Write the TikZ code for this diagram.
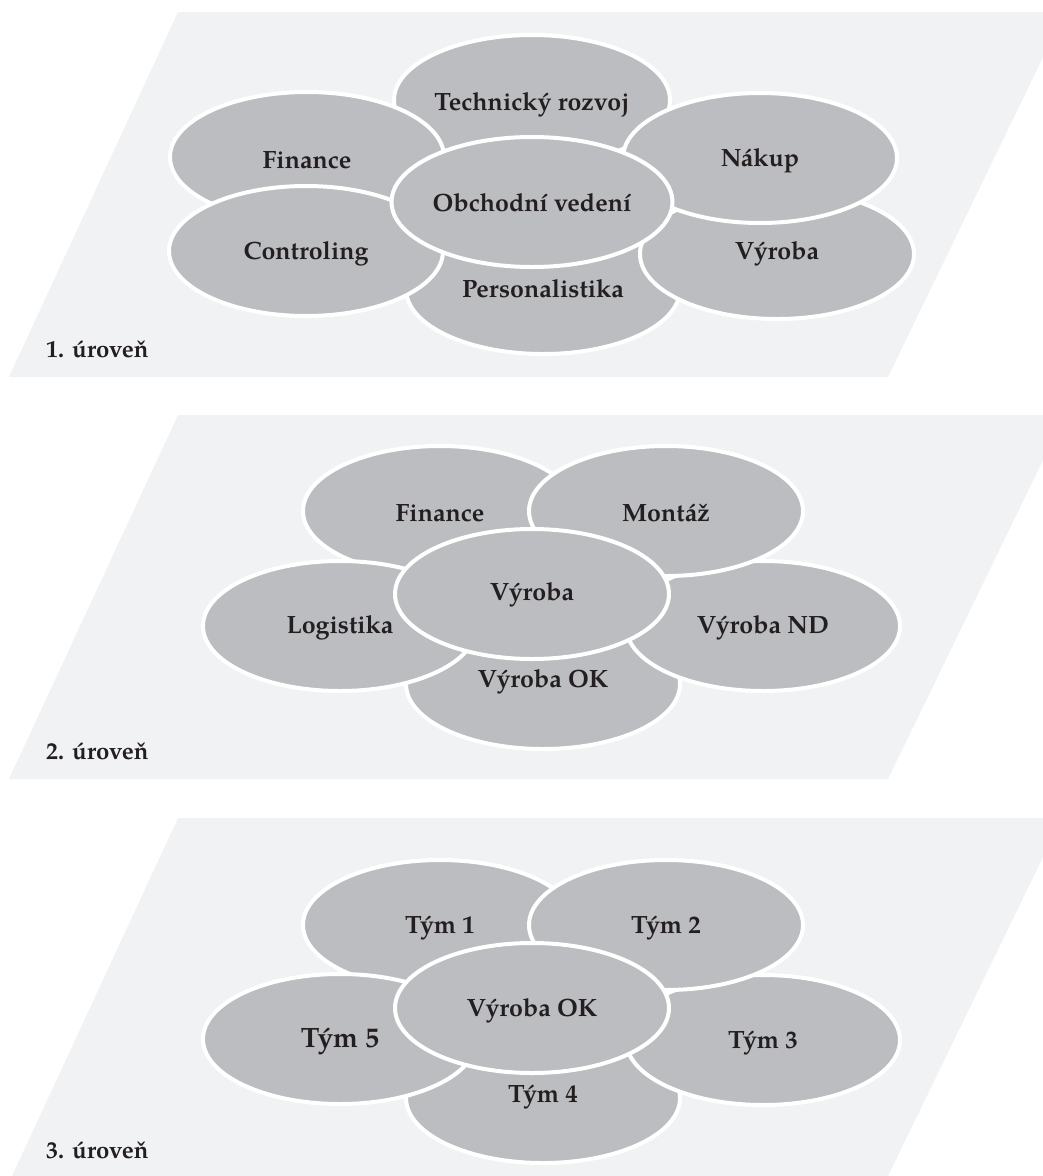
\documentclass[tikz,border=0pt]{standalone}
\usepackage{fontspec}
\setmainfont{TeX Gyre Pagella}
\usetikzlibrary{shapes.geometric}
\definecolor{panelgray}{HTML}{F1F2F3}
\definecolor{blobgray}{HTML}{BCBDC0}
\definecolor{textdark}{HTML}{231F20}
\newcommand{\shiftdown}[2][3pt]{\raisebox{-#1}[\height][\depth]{#2}}
\tikzset{
  panel/.style={fill=panelgray, draw=none},
  blob/.style={ellipse, fill=blobgray, draw=white, line width=4pt,
    minimum width=274pt, minimum height=130pt, inner sep=0pt,
    font=\bfseries\fontsize{25}{29}\selectfont, text=textdark},
  lvl/.style={anchor=base west, inner sep=0pt,
    font=\bfseries\fontsize{24}{28}\selectfont, text=textdark}
}
\begin{document}
\begin{tikzpicture}[x=1pt, y=-1pt]
\useasboundingbox (0,0) rectangle (1043,1176);
\clip (0,0) rectangle (1043,1176);
% panels
\fill[panel] (178,12) -- (1065,12) -- (888,377) -- (9,377) -- cycle;
\fill[panel] (178,415) -- (1065,415) -- (888,779) -- (9,779) -- cycle;
\fill[panel] (178,818) -- (1062,818) -- (888,1176) -- (12,1176) -- cycle;
\node[lvl] (l1) at (46,357) {1. úroveň};
\node[lvl] (l2) at (46,759) {2. úroveň};
\node[lvl] (l3) at (46,1158) {3. úroveň};
% level 1
\node[blob] (tr) at (532,100) {\shiftdown[5pt]{Technický rozvoj}};
\node[blob] (pe) at (543,289) {Personalistika};
\node[blob] (fi) at (307,157) {\shiftdown{Finance}};
\node[blob] (co) at (306,251) {\shiftdown{Controling}};
\node[blob] (vy) at (777,254) {Výroba};
\node[blob] (na) at (760,158) {\shiftdown{Nákup}};
\node[blob] (ov) at (532,202) {\shiftdown[1pt]{Obchodní vedení}};
% level 2
\node[blob] (vok) at (543,684) {\shiftdown[-2pt]{Výroba OK}};
\node[blob] (fi2) at (440,511) {\shiftdown[2pt]{Finance}};
\node[blob] (vnd) at (763,626) {\shiftdown[2pt]{Výroba ND}};
\node[blob] (mo) at (666,511) {\shiftdown[2pt]{Montáž}};
\node[blob] (lo) at (340,626) {\shiftdown[2pt]{Logistika}};
\node[blob] (vy2) at (532,594) {\shiftdown[1pt]{Výroba}};
% level 3
\node[blob] (t4) at (543,1098) {\shiftdown[-1pt]{Tým 4}};
\node[blob] (t1) at (440,925) {\shiftdown{Tým 1}};
\node[blob] (t3) at (763,1040) {\shiftdown{Tým 3}};
\node[blob] (t2) at (666,925) {\shiftdown{Tým 2}};
\node[blob, font=\bfseries\fontsize{28}{32}\selectfont] (t5) at (340,1039) {\shiftdown{Tým 5}};
\node[blob] (vok3) at (532,1008) {\shiftdown{Výroba OK}};
\end{tikzpicture}
\end{document}
